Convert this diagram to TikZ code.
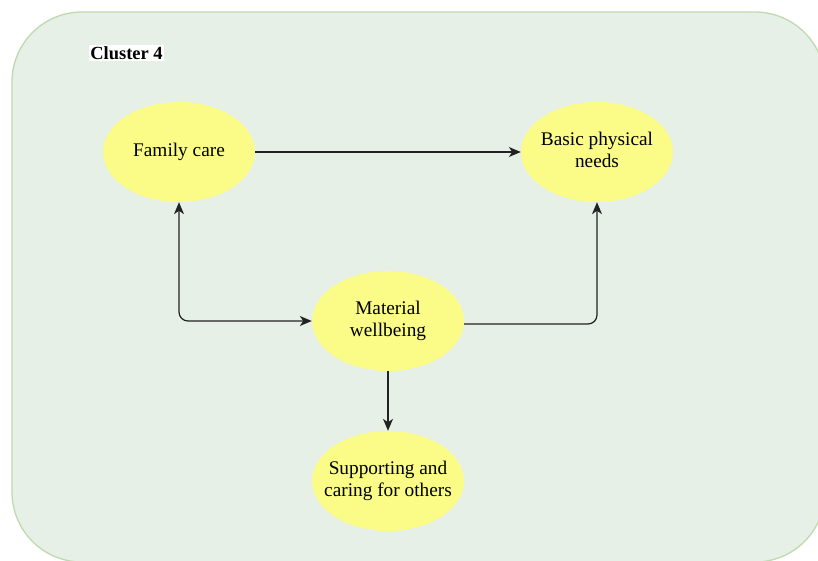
\documentclass[tikz,border=0pt]{standalone}
\usepackage{fontspec}
\setmainfont{Liberation Serif}
\usetikzlibrary{shapes.geometric,arrows.meta}
\definecolor{bgfill}{HTML}{E6F0E6}
\definecolor{bgdraw}{HTML}{BFD9AF}
\definecolor{ellfill}{HTML}{FBFB88}
\definecolor{linecol}{HTML}{222222}
\newcommand\ctxt[1]{\makebox[0pt]{\begin{tabular}{@{}c@{}}#1\end{tabular}}}
\tikzset{
  blob/.style={ellipse, fill=ellfill, draw=none, minimum width=152pt, minimum height=100pt, inner sep=0pt, font=\fontsize{19.3}{22}\selectfont},
  conn/.style={draw=linecol, line width=1.2pt, -{Stealth[length=12pt,width=10pt,inset=3.5pt]}},
  biconn/.style={draw=linecol, line width=1.2pt, {Stealth[length=12pt,width=10pt,inset=3.5pt]}-{Stealth[length=12pt,width=10pt,inset=3.5pt]}, rounded corners=9pt},
}
\begin{document}
\begin{tikzpicture}[x=1pt,y=-1pt]
\useasboundingbox (0,0) rectangle (818,560);
\begin{scope}
\clip (0,0) rectangle (818,560);
\draw[fill=bgfill, draw=bgdraw, line width=1.3pt, rounded corners=70pt] (12,12) rectangle (825,562);
\end{scope}
\node[fill=white, inner sep=1pt, font=\fontsize{18.5}{21.5}\selectfont\bfseries] (title) at (126.5,53) {Cluster 4};
\node[blob] (fc) at (179,152) {\ctxt{Family care}};
\node[blob] (bpn) at (597,152) {\ctxt{Basic physical\\needs}};
\node[blob] (mw) at (388,321) {\ctxt{Material\\wellbeing}};
\node[blob] (sc) at (388,481) {\ctxt{Supporting and\\caring for others}};
\draw[conn] (fc.east) -- (bpn.west);
\draw[biconn] (fc.south) |- (mw.west);
\draw[conn, rounded corners=9pt] ([yshift=-3pt]mw.east) -| (bpn.south);
\draw[conn] (mw.south) -- (sc.north);
\end{tikzpicture}
\end{document}
